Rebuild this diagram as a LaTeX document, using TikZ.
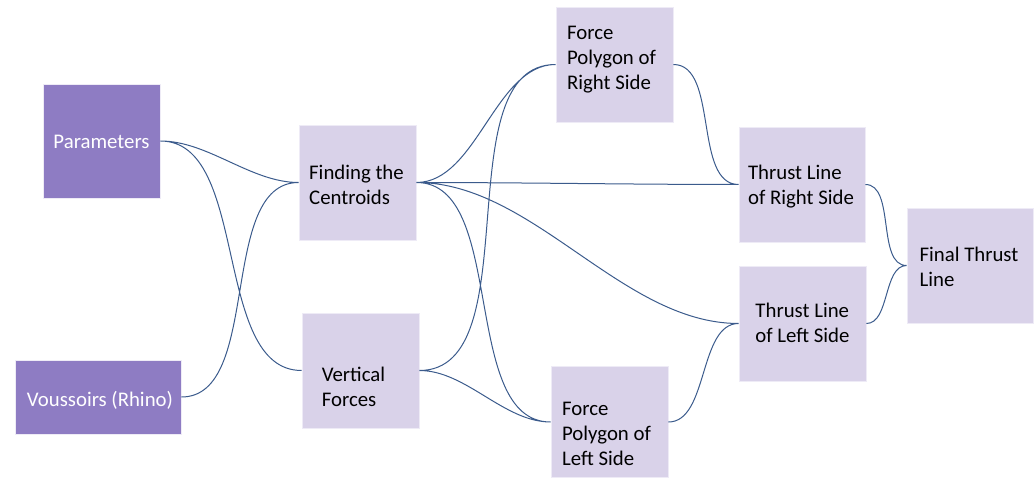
\documentclass[tikz,border=0pt]{standalone}
\usepackage{fontspec}
\setmainfont{Carlito}
\usepackage{tikz}
\usetikzlibrary{arrows.meta,calc}
\definecolor{darkbox}{HTML}{8E7CC3}
\definecolor{lightbox}{HTML}{D9D2E9}
\definecolor{linkcol}{HTML}{3B5B8C}
\tikzset{
  box/.style={rectangle,inner sep=0pt,draw=white!85!darkbox,line width=0.8pt},
  inbox/.style={box,fill=darkbox},
  stepbox/.style={box,fill=lightbox},
  boxtext/.style={inner sep=0pt,align=left,font=\fontsize{20.8}{25}\selectfont},
  link/.style={draw=linkcol,line width=1pt,out=0,in=180,looseness=0.85}
}

\begin{document}
\begin{tikzpicture}[x=1pt,y=-1pt]
\useasboundingbox (0,0) rectangle (1035,478);

% inputs
\node[inbox,minimum width=117pt,minimum height=114pt] (par) at (101.5,141) {};
\node[boxtext,text=white] (partext) at ($(par.center)+(0,1)$) {Parameters};
\node[inbox,minimum width=166pt,minimum height=74pt] (vou) at (98,397) {};
\node[boxtext,text=white] (voutext) at ($(vou.center)+(2,3)$) {Voussoirs (Rhino)};

% steps
\node[stepbox,minimum width=117pt,minimum height=115pt] (cen) at (357.5,182.5) {};
\node[boxtext] (centext) at ($(cen.center)+(-1,2)$) {Finding the\\Centroids};
\node[stepbox,minimum width=117pt,minimum height=115pt] (ver) at (360.5,370.5) {};
\node[boxtext] (vertext) at ($(ver.center)+(-7,16)$) {Vertical\\Forces};

\node[stepbox,minimum width=117pt,minimum height=115pt] (fpr) at (614.5,64.5) {};
\node[boxtext] (fprtext) at ($(fpr.center)+(-3,-5)$) {Force\\Polygon of\\Right Side};
\node[stepbox,minimum width=117pt,minimum height=111pt] (fpl) at (609.5,422) {};
\node[boxtext] (fpltext) at ($(fpl.center)+(-3,12)$) {Force\\Polygon of\\Left Side};

\node[stepbox,minimum width=126pt,minimum height=115pt] (tlr) at (802,184.5) {};
\node[boxtext] (tlrtext) at ($(tlr.center)+(-1,2)$) {Thrust Line\\of Right Side};
\node[stepbox,minimum width=127pt,minimum height=115pt] (tll) at (802.5,323.5) {};
\node[boxtext] (tlltext) at ($(tll.center)+(0,-1)$) {Thrust Line\\of Left Side};

\node[stepbox,minimum width=126pt,minimum height=115pt] (fin) at (970,265.5) {};
\node[boxtext] (fintext) at ($(fin.center)+(-1,1)$) {Final Thrust\\Line};

\path[link] (par.east) to (cen.west) (par.east) to (ver.west) (vou.east) to (cen.west)
  (cen.east) to (fpr.west) (cen.east) to (tlr.west) (cen.east) to (tll.west) (cen.east) to (fpl.west)
  (ver.east) to (fpr.west) (ver.east) to (fpl.west)
  (fpr.east) to (tlr.west) (fpl.east) to (tll.west)
  (tlr.east) to (fin.west) (tll.east) to (fin.west);

\end{tikzpicture}
\end{document}
